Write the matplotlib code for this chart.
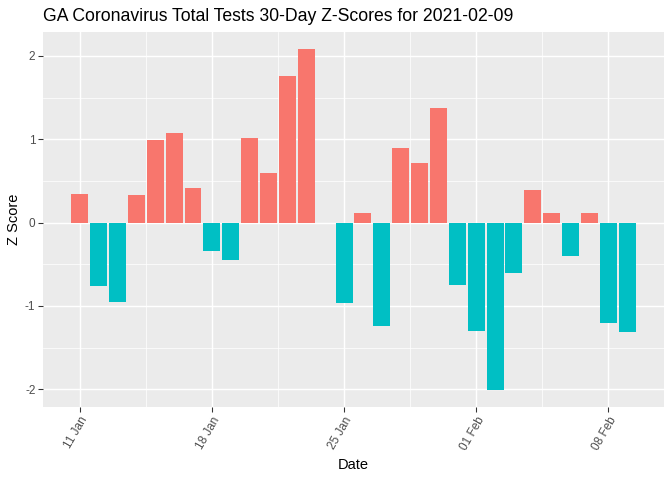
import numpy as np
import pandas as pd
import matplotlib
matplotlib.use("Agg")
import matplotlib.pyplot as plt
import matplotlib.dates as mdates

plt.rcParams['font.family'] = ['Liberation Sans', 'DejaVu Sans']

# 30 days of z-scores (24 Jan has no visible bar)
dates = pd.date_range("2021-01-11", "2021-02-09", freq="D")
z_scores = [0.34, -0.76, -0.95, 0.33, 0.99, 1.07, 0.41, -0.34, -0.45, 1.01,
            0.60, 1.76, 2.08, 0.0, -0.97, 0.12, -1.24, 0.89, 0.72, 1.37,
            -0.75, -1.30, -2.01, -0.61, 0.39, 0.12, -0.40, 0.11, -1.20, -1.31]
tick_dates = pd.to_datetime(["2021-01-11", "2021-01-18", "2021-01-25", "2021-02-01", "2021-02-08"])

z = np.array(z_scores)
colors = np.where(z > 0, "#F8766D", "#00BFC4")

fig = plt.figure(figsize=(7, 5), dpi=96)
ax = fig.add_axes([0.064, 0.152, 0.924, 0.781])
ax.set_facecolor("#EBEBEB")

ax.bar(dates, z, width=0.9, color=colors, zorder=3)

# limits with ggplot-style 5% expansion
x0 = mdates.date2num(dates[0]) - 0.45
x1 = mdates.date2num(dates[-1]) + 0.45
dx = (x1 - x0) * 0.05
ax.set_xlim(x0 - dx, x1 + dx)
ymin, ymax = min(z.min(), 0), z.max()
dy = (ymax - ymin) * 0.05
ax.set_ylim(ymin - dy, ymax + dy)

ax.set_xticks(tick_dates)
ax.set_xticklabels([d.strftime("%d %b") for d in tick_dates], rotation=60,
                   ha="right", rotation_mode="anchor", fontsize=8.8, color="#4D4D4D")
minor_x = tick_dates[:-1] + pd.Timedelta(days=3.5)
ax.set_xticks(minor_x, minor=True)
ax.set_yticks([-2, -1, 0, 1, 2])
ax.set_yticklabels(["-2", "-1", "0", "1", "2"], fontsize=8.8, color="#4D4D4D")
ax.set_yticks([-1.5, -0.5, 0.5, 1.5], minor=True)

ax.grid(which="major", color="white", linewidth=1.1, zorder=0)
ax.grid(which="minor", color="white", linewidth=0.55, zorder=0)
ax.set_axisbelow(True)
ax.tick_params(which="major", length=3.7, width=0.8, color="#333333", pad=2)
ax.tick_params(which="minor", length=0)
for s in ax.spines.values():
    s.set_visible(False)

ax.set_xlabel("Date", fontsize=11, labelpad=4)
ax.set_ylabel("Z Score", fontsize=11, labelpad=3)
ax.set_title("GA Coronavirus Total Tests 30-Day Z-Scores for 2021-02-09",
             fontsize=13.2, loc="left", pad=8)

fig.savefig("out.png", dpi=96)
